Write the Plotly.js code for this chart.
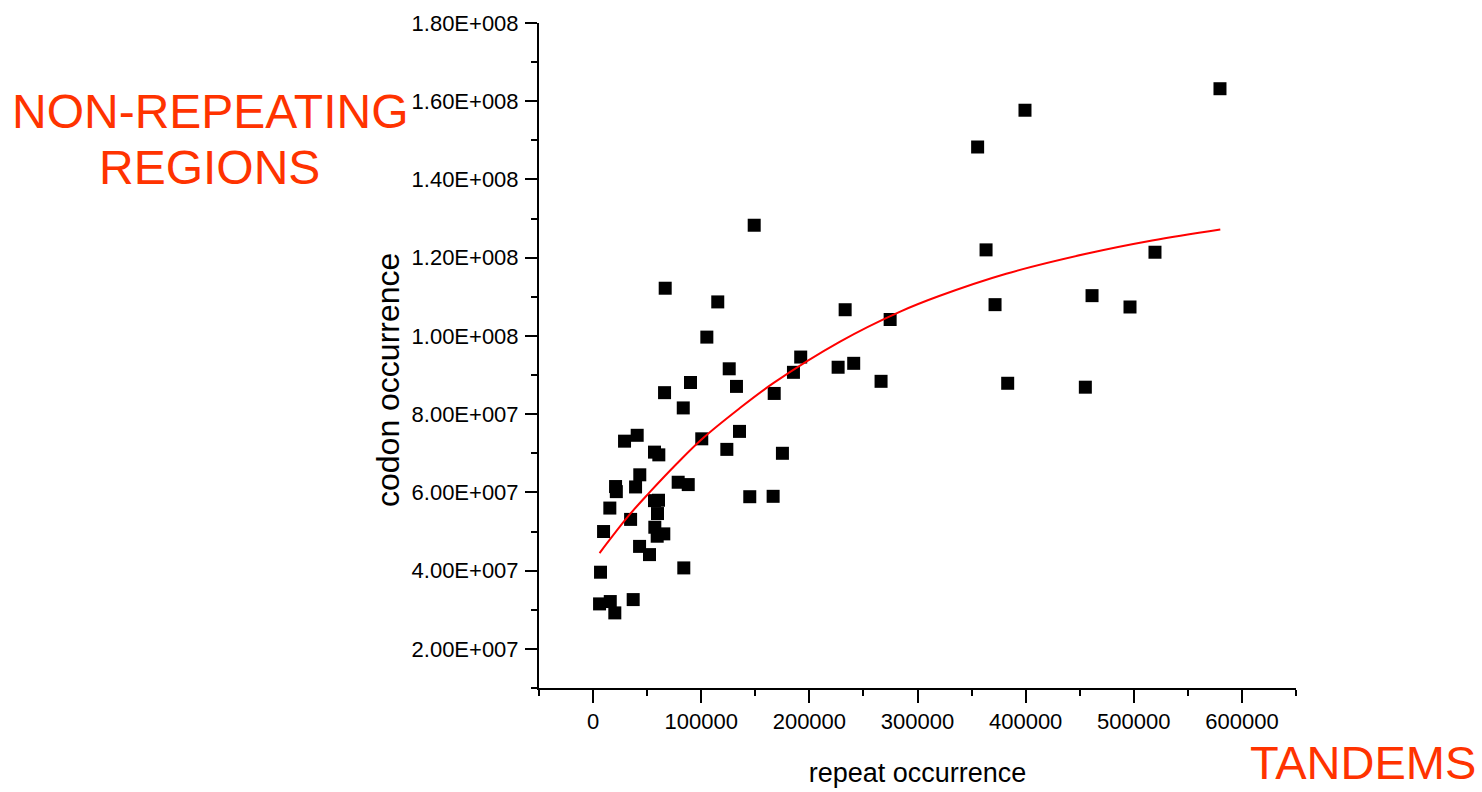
<!DOCTYPE html>
<html>
<head>
<meta charset="utf-8">
<script src="https://cdn.plot.ly/plotly-3.0.1.min.js"></script>
<style>
  html, body { margin: 0; padding: 0; background: #ffffff; }
  #chart { width: 1482px; height: 792px; }
</style>
</head>
<body>
<div id="chart"></div>
<script>
// Scatter points: repeat occurrence (x) vs codon occurrence (y)
const repeatOccurrence = [
  579700, 399400, 355600, 149000, 363400, 519600, 461400, 371700, 496500,
  66700, 115300, 233100, 274700, 105200, 192000, 185300, 226600, 241000,
  266300, 125900, 132600, 90100, 66100, 83400, 167500, 383400, 455200,
  135400, 100500, 123700, 175100, 56800, 60800, 29100, 40800, 43200,
  20800, 21500, 39300, 78700, 88000, 144900, 166500, 56800, 60500,
  59600, 15500, 34700, 9700, 57100, 59300, 65400, 43000, 52200,
  6900, 83900, 6000, 15900, 20100, 37100
];
const codonOccurrence = [
  1.632e8, 1.577e8, 1.483e8, 1.283e8, 1.220e8, 1.214e8, 1.103e8, 1.080e8, 1.074e8,
  1.122e8, 1.087e8, 1.067e8, 1.042e8, 9.97e7, 9.46e7, 9.07e7, 9.20e7, 9.30e7,
  8.84e7, 9.16e7, 8.71e7, 8.81e7, 8.55e7, 8.16e7, 8.53e7, 8.79e7, 8.69e7,
  7.56e7, 7.37e7, 7.10e7, 7.00e7, 7.03e7, 6.96e7, 7.31e7, 7.46e7, 6.45e7,
  6.15e7, 6.02e7, 6.14e7, 6.26e7, 6.20e7, 5.89e7, 5.90e7, 5.79e7, 5.80e7,
  5.46e7, 5.60e7, 5.31e7, 5.00e7, 5.11e7, 4.88e7, 4.94e7, 4.62e7, 4.41e7,
  3.96e7, 4.07e7, 3.15e7, 3.21e7, 2.92e7, 3.26e7
];

// Fitted curve
const fitX = [6000, 33700, 52200, 76900, 100500, 135000, 167000, 228000, 283000, 320000, 382000, 456000, 517000, 580000];
const fitY = [4.45e7, 5.43e7, 6.00e7, 6.72e7, 7.36e7, 8.14e7, 8.80e7, 9.85e7, 1.061e8, 1.102e8, 1.159e8, 1.210e8, 1.244e8, 1.272e8];

// Tick values and labels
const xTickVals = [0, 100000, 200000, 300000, 400000, 500000, 600000];
const xTickText = ["0", "100000", "200000", "300000", "400000", "500000", "600000"];
const yTickVals = [2e7, 4e7, 6e7, 8e7, 1e8, 1.2e8, 1.4e8, 1.6e8, 1.8e8];
const yTickText = ["2.00E+007", "4.00E+007", "6.00E+007", "8.00E+007", "1.00E+008",
                   "1.20E+008", "1.40E+008", "1.60E+008", "1.80E+008"];

const FONT = "Liberation Sans, Arial, Helvetica, sans-serif";
const ORANGE = "#ff3300";

const traces = [
  {
    type: "scatter",
    mode: "markers",
    x: repeatOccurrence,
    y: codonOccurrence,
    marker: { symbol: "square", size: 13, color: "#000000", line: { width: 0 } },
    hoverinfo: "x+y",
    showlegend: false
  },
  {
    type: "scatter",
    mode: "lines",
    x: fitX,
    y: fitY,
    line: { color: "#ff0000", width: 2, shape: "spline", smoothing: 1 },
    hoverinfo: "skip",
    showlegend: false
  }
];

const axisCommon = {
  showgrid: false,
  zeroline: false,
  showline: true,
  linecolor: "#000000",
  linewidth: 2,
  mirror: false,
  ticks: "outside",
  tickcolor: "#000000",
  tickwidth: 2,
  ticklen: 12,
  tickfont: { family: FONT, size: 22, color: "#000000" }
};

const layout = {
  width: 1482,
  height: 792,
  paper_bgcolor: "#ffffff",
  plot_bgcolor: "#ffffff",
  margin: { l: 539, r: 186, t: 23, b: 104, pad: 0 },
  font: { family: FONT, color: "#000000" },
  xaxis: Object.assign({}, axisCommon, {
    range: [-50000, 650000],
    tickmode: "array",
    tickvals: xTickVals,
    ticktext: xTickText,
    ticklen: 13,
    minor: { dtick: 50000, tick0: 0, ticks: "outside", ticklen: 6, tickwidth: 2, tickcolor: "#000000", showgrid: false },
    title: { text: "repeat occurrence", font: { family: FONT, size: 27, color: "#000000" }, standoff: 30 }
  }),
  yaxis: Object.assign({}, axisCommon, {
    range: [1e7, 1.8e8],
    tickmode: "array",
    tickvals: yTickVals,
    ticktext: yTickText,
    ticklabelstandoff: 2,
    minor: { dtick: 1e7, tick0: 0, ticks: "outside", ticklen: 6, tickwidth: 2, tickcolor: "#000000", showgrid: false }
  }),
  annotations: [
    { text: "codon occurrence", xref: "paper", yref: "paper", x: (388 - 539) / 757, y: (688 - 380) / 665,
      xanchor: "center", yanchor: "middle", textangle: -90, showarrow: false,
      font: { family: FONT, size: 32, color: "#000000" } },
    { text: "NON-REPEATING", xref: "paper", yref: "paper", x: (209.5 - 539) / 757, y: (688 - 111) / 665,
      xanchor: "center", yanchor: "middle", showarrow: false,
      font: { family: FONT, size: 48, color: ORANGE } },
    { text: "REGIONS", xref: "paper", yref: "paper", x: (209.5 - 539) / 757, y: (688 - 167) / 665,
      xanchor: "center", yanchor: "middle", showarrow: false,
      font: { family: FONT, size: 48, color: ORANGE } },
    { text: "TANDEMS", xref: "paper", yref: "paper", x: (1363 - 539) / 757, y: (688 - 762) / 665,
      xanchor: "center", yanchor: "middle", showarrow: false,
      font: { family: FONT, size: 47, color: ORANGE } }
  ]
};

Plotly.newPlot("chart", traces, layout, { displayModeBar: false, staticPlot: false });
</script>
</body>
</html>
